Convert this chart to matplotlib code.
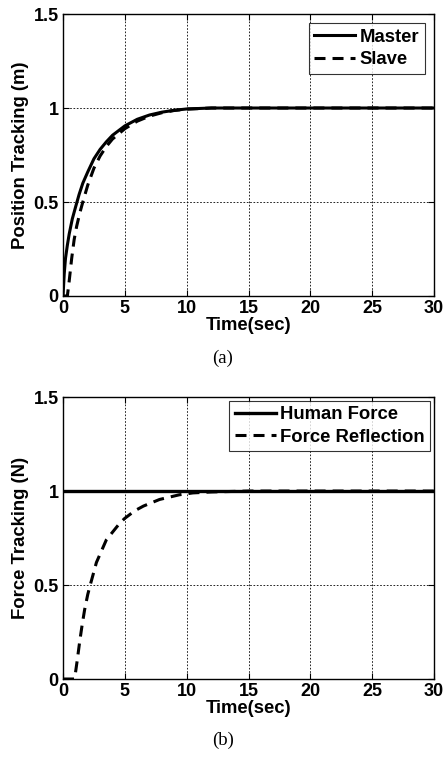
import matplotlib.pyplot as plt

plt.rcParams['font.family'] = ['Liberation Sans', 'DejaVu Sans']
plt.rcParams['font.weight'] = 'bold'

# (a) position tracking
t_master = [0, 0.1, 0.2, 0.35, 0.5, 0.75, 1.0, 1.3, 1.6, 2.0, 2.5, 3.0, 3.5, 4.0, 5.0, 6.0, 7.0, 8.0, 9.0, 10.0, 12.0, 15.0, 20.0, 25.0, 30.0]
y_master = [0, 0.12, 0.2, 0.27, 0.33, 0.41, 0.47, 0.54, 0.6, 0.66, 0.73, 0.78, 0.82, 0.855, 0.905, 0.94, 0.963, 0.978, 0.988, 0.995, 1.0, 1.0, 1.0, 1.0, 1.0]
t_slave = [0, 0.35, 0.5, 0.7, 0.9, 1.1, 1.35, 1.6, 2.0, 2.5, 3.0, 3.5, 4.0, 5.0, 6.0, 7.0, 8.0, 9.0, 10.0, 12.0, 15.0, 20.0, 25.0, 30.0]
y_slave = [0, 0, 0.08, 0.2, 0.3, 0.37, 0.44, 0.5, 0.59, 0.68, 0.745, 0.795, 0.835, 0.89, 0.93, 0.957, 0.975, 0.987, 0.994, 1.0, 1.0, 1.0, 1.0, 1.0]

# (b) force tracking
t_human = [0, 30]
y_human = [1.0, 1.0]
t_reflect = [0, 0.9, 1.0, 1.15, 1.35, 1.55, 1.75, 2.0, 2.2, 2.7, 3.5, 4.6, 5.0, 5.8, 6.5, 7.8, 9.4, 10.5, 12.0, 15.0, 20.0, 25.0, 30.0]
y_reflect = [0, 0, 0.03, 0.1, 0.2, 0.29, 0.37, 0.45, 0.5, 0.62, 0.74, 0.83, 0.855, 0.895, 0.92, 0.955, 0.98, 0.99, 0.995, 1.0, 1.0, 1.0, 1.0]

x_ticks = [0, 5, 10, 15, 20, 25, 30]
y_ticks = [0, 0.5, 1, 1.5]
y_ticklabels = ['0', '0.5', '1', '1.5']


def style_axes(ax, ylabel):
    ax.set_xlim(0, 30)
    ax.set_ylim(0, 1.5)
    ax.set_xticks(x_ticks)
    ax.set_yticks(y_ticks)
    ax.set_yticklabels(y_ticklabels)
    ax.grid(True, color='black', linestyle=(0, (2, 2)), linewidth=0.6)
    ax.tick_params(direction='in', length=4, width=0.8, top=True, right=True,
                   labelsize=13, pad=3)
    for lbl in ax.get_xticklabels() + ax.get_yticklabels():
        lbl.set_fontweight('bold')
    for sp in ax.spines.values():
        sp.set_linewidth(1.0)
    ax.set_xlabel('Time(sec)', fontsize=13.3, fontweight='bold', labelpad=0)
    ax.set_ylabel(ylabel, fontsize=13.3, fontweight='bold', labelpad=3)


fig = plt.figure(figsize=(4.46, 7.58), dpi=100)

ax1 = fig.add_axes([0.1413, 0.6095, 0.832, 0.372])
ax1.plot(t_master, y_master, color='black', linewidth=2.2, label='Master')
ax1.plot(t_slave, y_slave, color='black', linewidth=2.2, dashes=(3.6, 2.3), label='Slave')
style_axes(ax1, 'Position Tracking (m)')
leg1 = ax1.legend(loc='upper right', fontsize=13.3, frameon=True, fancybox=False,
                  edgecolor='black', handlelength=2.2, handletextpad=0.25,
                  borderpad=0.3, labelspacing=0.3, borderaxespad=0.5)
leg1.get_frame().set_linewidth(0.8)
for txt in leg1.get_texts():
    txt.set_fontweight('bold')
fig.text(0.5, 1 - 358 / 758, '(a)', ha='center', va='center', fontsize=13.5,
         family='Liberation Serif', fontweight='normal')

ax2 = fig.add_axes([0.1413, 0.1042, 0.832, 0.372])
ax2.plot(t_human, y_human, color='black', linewidth=2.4, label='Human Force')
ax2.plot(t_reflect, y_reflect, color='black', linewidth=2.2, dashes=(3.6, 2.3), label='Force Reflection')
style_axes(ax2, 'Force Tracking (N)')
leg2 = ax2.legend(loc='upper right', fontsize=13.3, frameon=True, fancybox=False,
                  edgecolor='black', handlelength=2.2, handletextpad=0.25,
                  borderpad=0.3, labelspacing=0.3, borderaxespad=0.2)
leg2.get_frame().set_linewidth(0.8)
for txt in leg2.get_texts():
    txt.set_fontweight('bold')
fig.text(0.5, 1 - 740 / 758, '(b)', ha='center', va='center', fontsize=13.5,
         family='Liberation Serif', fontweight='normal')

fig.savefig('out.png', dpi=100, facecolor='white')
